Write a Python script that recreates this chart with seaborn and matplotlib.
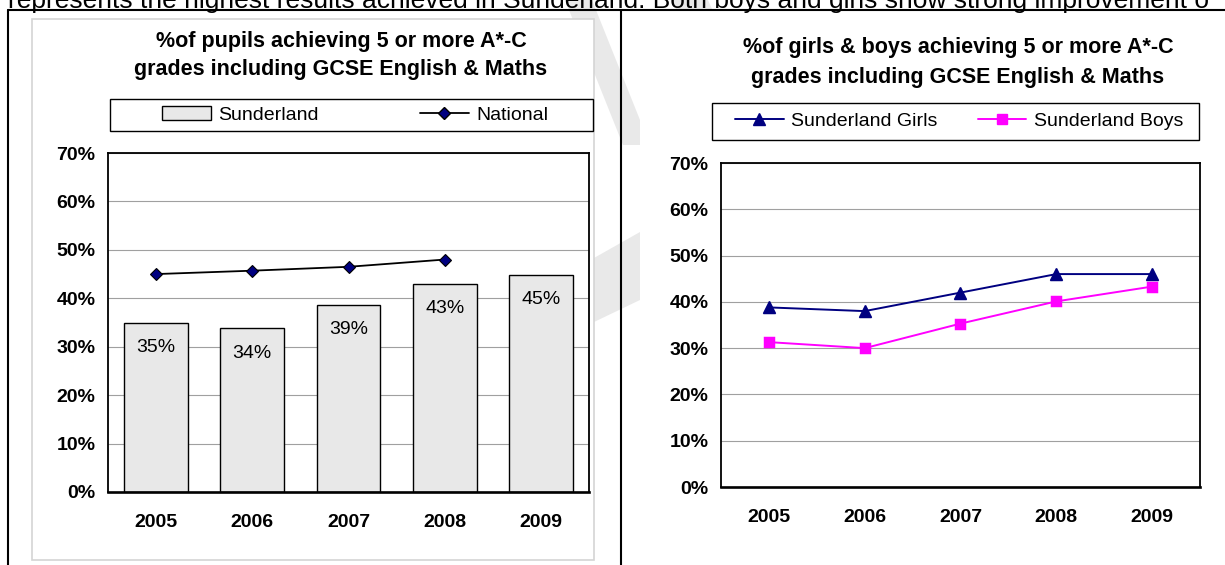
# two gcse charts: sunderland vs national, girls vs boys

import matplotlib
matplotlib.use("Agg")
import matplotlib.pyplot as plt
from matplotlib.lines import Line2D
from matplotlib.patches import Polygon, Rectangle
from matplotlib.ticker import FixedLocator, StrMethodFormatter
import numpy as np
import seaborn as sns

# values (percent)
years = ["2005", "2006", "2007", "2008", "2009"]
sunderland = [35.0, 33.8, 38.6, 43.0, 44.9]
national = [45.0, 45.7, 46.5, 48.0, np.nan]
girls = [38.8, 38.0, 42.0, 46.0, 46.0]
boys = [31.3, 30.0, 35.3, 40.1, 43.3]
pct_ticks = [0, 10, 20, 30, 40, 50, 60, 70]

left_title = ["%of pupils achieving 5 or more A*-C",
              "grades including GCSE English & Maths"]
right_title = ["%of girls & boys achieving 5 or more A*-C",
               "grades including GCSE English & Maths"]
left_labels = ["Sunderland", "National"]
right_labels = ["Sunderland Girls", "Sunderland Boys"]
page_text = ("represents the highest results achieved in Sunderland. "
             "Both boys and girls show strong improvement o")

W, H = 1225, 565
NAVY = "#000080"
MAGENTA = "#ff00ff"
BAR_GREY = "#e8e8e8"
GRID_GREY = "#a0a0a0"


def fx(x):
    return x / W


def fy(y):
    return 1 - y / H


def px_box(x0, y0, x1, y1):
    # pixel box (origin top left) -> figure fraction rect
    return [fx(x0), fy(y1), (x1 - x0) / W, (y1 - y0) / H]


def style_axes(ax):
    ax.set_xlim(-0.5, len(years) - 0.5)
    ax.set_ylim(0, 70)
    ax.set_yticks(pct_ticks)
    ax.yaxis.set_major_formatter(StrMethodFormatter("{x:.0f}%"))
    ax.set_xticks(range(len(years)))
    ax.set_xticklabels(years)
    # excel style: tick marks between the categories
    ax.xaxis.set_minor_locator(FixedLocator(np.arange(-0.5, len(years), 1.0)))
    ax.tick_params(axis="x", which="major", length=0, pad=16, labelsize=14)
    ax.tick_params(axis="x", which="minor", length=4.5, width=1,
                   direction="out", color="black")
    ax.tick_params(axis="y", length=4, width=1, direction="out", pad=5,
                   labelsize=14, color="black")
    for lab in ax.get_xticklabels() + ax.get_yticklabels():
        lab.set_fontweight("bold")
    ax.yaxis.grid(True, color=GRID_GREY, lw=0.8)
    ax.xaxis.grid(False)
    ax.set_axisbelow(True)
    for side in ["left", "top", "right"]:
        ax.spines[side].set_visible(True)
        ax.spines[side].set_color("black")
        ax.spines[side].set_linewidth(1.3)
    ax.spines["bottom"].set_color("black")
    ax.spines["bottom"].set_linewidth(1.9)
    ax.set_xlabel("")
    ax.set_ylabel("")
    ax.set_facecolor("white")


def main():
    sns.set_style("white")
    plt.rcParams["font.family"] = ["Liberation Sans", "DejaVu Sans"]
    plt.rcParams.update({"text.color": "black", "axes.labelcolor": "black",
                         "xtick.color": "black", "ytick.color": "black"})

    fig = plt.figure(figsize=(W / 100, H / 100), dpi=100)

    # faint watermark strokes from the scanned page
    for pts in [[(565, 0), (592, 0), (650, 145), (623, 145)],
                [(594, 258), (640, 232), (640, 300), (594, 322)],
                [(672, 0), (708, 0), (712, 9), (676, 9)]]:
        fig.patches.append(Polygon([(fx(x), fy(y)) for x, y in pts],
                                   closed=True, transform=fig.transFigure,
                                   facecolor="#e9e9e9", edgecolor="none",
                                   zorder=-2))

    # chart areas
    fig.patches.append(Rectangle((fx(32), fy(560)), (594 - 32) / W, (560 - 19) / H,
                                 transform=fig.transFigure, facecolor="white",
                                 edgecolor="#d4d4d4", lw=1.2, zorder=-1))
    fig.patches.append(Rectangle((fx(640), fy(565)), (1225 - 640) / W, (565 - 12) / H,
                                 transform=fig.transFigure, facecolor="white",
                                 edgecolor="none", zorder=-1))

    # table borders of the page
    fig.add_artist(Line2D([fx(7.5), fx(1225)], [fy(9.5), fy(9.5)],
                          transform=fig.transFigure, color="black", lw=1.5))
    for xb in [7.5, 621]:
        fig.add_artist(Line2D([fx(xb), fx(xb)], [fy(9.5), fy(565)],
                              transform=fig.transFigure, color="black", lw=1.5))

    fig.text(fx(8), fy(8), page_text, fontsize=19, ha="left", va="baseline")

    # left chart: bars + national line
    ax1 = fig.add_axes(px_box(108, 153, 589, 492))
    sns.barplot(x=years, y=sunderland, ax=ax1, color=BAR_GREY, saturation=1,
                edgecolor="black", linewidth=1.0, width=0.665)
    sns.pointplot(x=years, y=national, order=years, ax=ax1, color="black",
                  markers="D", errorbar=None, markersize=5.8, linewidth=1.3)
    nat_line = ax1.lines[-1]
    nat_line.set_markerfacecolor(NAVY)
    nat_line.set_markeredgecolor("black")
    nat_line.set_markeredgewidth(0.8)
    ax1.bar_label(ax1.containers[0], fmt="{:.0f}%", padding=-24, fontsize=14)
    style_axes(ax1)

    for i, line in enumerate(left_title):
        fig.text(fx(341), fy(42 + 27 * i), line, ha="center", va="center",
                 fontsize=15.5, fontweight="bold")

    fig.patches.append(Rectangle((fx(110), fy(131)), (593 - 110) / W, (131 - 99) / H,
                                 transform=fig.transFigure, facecolor="white",
                                 edgecolor="black", lw=1.0, zorder=-0.5))
    left_handles = [
        Rectangle((0, 0), 1, 1, facecolor=BAR_GREY, edgecolor="black", linewidth=1.0),
        Line2D([], [], color="black", lw=1.3, marker="D", markersize=5.8,
               markerfacecolor=NAVY, markeredgecolor="black"),
    ]
    fig.legend(left_handles, left_labels, loc="center left",
               bbox_to_anchor=(fx(162), fy(115)), ncol=2, frameon=False,
               fontsize=14, handlelength=2.5, handleheight=0.7,
               handletextpad=0.4, columnspacing=5.2, borderpad=0,
               borderaxespad=0)

    # right chart: girls and boys
    ax2 = fig.add_axes(px_box(721, 163, 1200, 487))
    sns.pointplot(x=years, y=girls, ax=ax2, color=NAVY, markers="^",
                  errorbar=None, markersize=8.5, linewidth=1.4)
    sns.pointplot(x=years, y=boys, ax=ax2, color=MAGENTA, markers="s",
                  errorbar=None, markersize=7.5, linewidth=1.4)
    style_axes(ax2)

    for i, line in enumerate(right_title):
        fig.text(fx(958), fy(48 + 29 * i), line, ha="center", va="center",
                 fontsize=15.5, fontweight="bold")

    fig.patches.append(Rectangle((fx(712), fy(140)), (1199 - 712) / W, (140 - 103) / H,
                                 transform=fig.transFigure, facecolor="white",
                                 edgecolor="black", lw=1.0, zorder=-0.5))
    right_handles = [
        Line2D([], [], color=NAVY, lw=1.4, marker="^", markersize=8.5),
        Line2D([], [], color=MAGENTA, lw=1.4, marker="s", markersize=7.5),
    ]
    fig.legend(right_handles, right_labels, loc="center left",
               bbox_to_anchor=(fx(735), fy(121.5)), ncol=2, frameon=False,
               fontsize=14, handlelength=2.5, handletextpad=0.4,
               columnspacing=2.06, borderpad=0, borderaxespad=0)

    fig.savefig("out.png", dpi=100)


if __name__ == "__main__":
    main()
